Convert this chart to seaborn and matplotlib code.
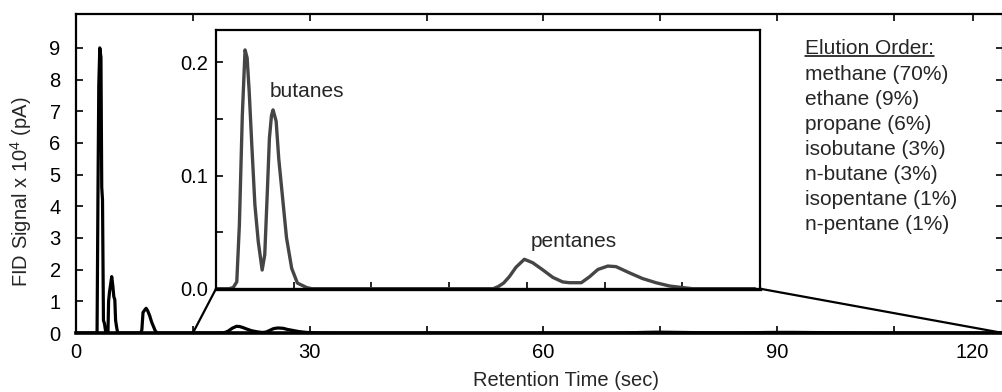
import numpy as np
import pandas as pd
import matplotlib
matplotlib.use('Agg')
import matplotlib.pyplot as plt
import seaborn as sns
from matplotlib.patches import ConnectionPatch
from matplotlib.lines import Line2D

# ---------------- data (FID signal in units of 1e4 pA) ----------------
methane_t = [0.0, 2.7, 2.82, 2.92, 3.05, 3.2, 3.3, 3.4, 3.52, 3.65, 3.8, 3.9]
methane_s = [0.0, 0.0, 4.5, 7.8, 9.0, 8.7, 4.6, 4.2, 0.4, 0.3, 0.05, 0.0]

ethane_t = [4.1, 4.18, 4.3, 4.45, 4.58, 4.72, 4.85, 4.98, 5.08, 5.2, 5.35]
ethane_s = [0.0, 1.0, 1.3, 1.55, 1.78, 1.5, 1.15, 1.05, 0.4, 0.2, 0.0]

propane_t = [8.3, 8.45, 8.6, 8.8, 9.0, 9.2, 9.45, 9.7, 9.95, 10.2, 10.5]
propane_s = [0.0, 0.1, 0.65, 0.72, 0.78, 0.7, 0.55, 0.35, 0.2, 0.05, 0.0]

butanes_t = [17.5, 18.3, 19.0, 19.5, 19.8, 20.07, 20.26, 20.6, 21.0, 21.4, 21.9,
             22.5, 23.15, 23.9, 24.4, 24.9, 25.3, 25.7, 26.0, 26.6, 27.1, 27.85,
             28.6, 29.6, 30.7, 32.5, 33.5]
butanes_s = [0.0, 0.001, 0.006, 0.056, 0.107, 0.153, 0.174, 0.211, 0.204, 0.174,
             0.127, 0.074, 0.0415, 0.0165, 0.030, 0.086, 0.133, 0.153, 0.158,
             0.148, 0.115, 0.080, 0.045, 0.018, 0.005, 0.001, 0.0]

pentanes_t = [68.5, 69.5, 70.5, 71.6, 72.9, 74.5, 76.1, 78.1, 80.0, 81.9, 83.2,
              85.5, 87.1, 88.7, 90.6, 92.2, 94.8, 97.3, 99.9, 102.5, 105.0, 107.0,
              119.0]
pentanes_s = [0.0, 0.002, 0.005, 0.0106, 0.019, 0.026, 0.023, 0.0165, 0.010,
              0.006, 0.0053, 0.0053, 0.0106, 0.017, 0.020, 0.0195, 0.014, 0.009,
              0.0053, 0.0024, 0.001, 0.0, 0.0]

elution_title = "Elution Order:"
elution_order = ["methane (70%)", "ethane (9%)", "propane (6%)", "isobutane (3%)",
                 "n-butane (3%)", "isopentane (1%)", "n-pentane (1%)"]

main_xticks = [0, 30, 60, 90]
main_xtick_labels = ["0", "30", "60", "90"]
main_yticks = list(range(0, 10))
inset_yticks = [0.0, 0.1, 0.2]
inset_ytick_labels = ["0.0", "0.1", "0.2"]

time_s = methane_t + ethane_t + propane_t + butanes_t + pentanes_t
signal = methane_s + ethane_s + propane_s + butanes_s + pentanes_s
df = pd.DataFrame({"t": time_s, "s": signal})

# ---------------- style ----------------
sns.set_style("ticks")
plt.rcParams['font.family'] = ['Liberation Sans', 'DejaVu Sans']
plt.rcParams['mathtext.default'] = 'regular'

fig = plt.figure(figsize=(10.03, 3.92), dpi=100)

# ---------------- main axes ----------------
ax = fig.add_axes([0.0758, 0.1505, 0.9242, 0.8138])
sns.lineplot(data=df, x="t", y="s", ax=ax, color="black", lw=2.3,
             sort=False, estimator=None)
ax.set_xlim(0, 119)
ax.set_ylim(0, 10.07)

ax.set_xticks(main_xticks + [115.1], main_xtick_labels + ["120"])
ax.set_xticks([15, 45, 75, 105], minor=True)
last = ax.xaxis.get_major_ticks()[-1]
last.tick1line.set_visible(False)
last.tick2line.set_visible(False)
ax.set_yticks(main_yticks)
ax.tick_params(axis='both', which='both', direction='in', length=5, width=1.2,
               top=True, right=True, labelsize=14.5, colors='black')
ax.tick_params(axis='x', which='both', pad=7)
ax.tick_params(axis='y', which='both', pad=11)
for sp in ax.spines.values():
    sp.set_linewidth(1.6)
    sp.set_color('black')
ax.spines['bottom'].set_linewidth(2.6)

ax.set_xlabel("Retention Time (sec)", fontsize=14.5)
ax.xaxis.set_label_coords(0.529, -0.119)
ax.set_ylabel("FID Signal x 10$^4$ (pA)", fontsize=14.5)
ax.yaxis.set_label_coords(-0.045, 0.443)

# elution order text block
x0 = (805 - 76) / 927
y_title = (333 - 49) / 319
step = 25.14 / 319
t_title = ax.text(x0, y_title, elution_title, transform=ax.transAxes,
                  fontsize=15, ha='left', va='center')
for i, name in enumerate(elution_order):
    ax.text(x0, y_title - step * (i + 1), name, transform=ax.transAxes,
            fontsize=15, ha='left', va='center')

# ---------------- inset ----------------
ax2 = fig.add_axes([0.2154, 0.2635, 0.5424, 0.66])
sns.lineplot(data=df, x="t", y="s", ax=ax2, color="#454545", lw=2.4,
             sort=False, estimator=None)
ax2.set_xlim(15, 120)
ax2.set_ylim(0, 0.2286)
ax2.set_xlabel("")
ax2.set_ylabel("")
ax2.set_xticks([30, 45, 60, 75, 90, 105], [""] * 6)
ax2.set_yticks(inset_yticks, inset_ytick_labels)
ax2.set_yticks([0.05, 0.15], minor=True)
ax2.tick_params(axis='both', which='both', direction='in', length=5, width=1.2,
                top=False, right=False, labelsize=14.5, colors='black')
ax2.tick_params(axis='y', which='both', pad=5.5)
for sp in ax2.spines.values():
    sp.set_linewidth(1.6)
    sp.set_color('black')
ax2.spines['bottom'].set_linewidth(2.4)

ax2.text(25.4, 0.174, "butanes", fontsize=15, ha='left', va='center')
ax2.text(75.8, 0.0415, "pentanes", fontsize=15, ha='left', va='center')

# ---------------- connectors ----------------
cp1 = ConnectionPatch(xyA=(15, 0), coordsA=ax.transData, xyB=(0, 0),
                      coordsB=ax2.transAxes, color='black', lw=1.6)
fig.add_artist(cp1)
cp2 = ConnectionPatch(xyA=(1, 0), coordsA=ax.transAxes, xyB=(1, 0),
                      coordsB=ax2.transAxes, color='black', lw=1.6)
fig.add_artist(cp2)

# underline for the title of the elution list
fig.canvas.draw()
bb = t_title.get_window_extent()
W, H = fig.bbox.width, fig.bbox.height
yline = (bb.y0 + 2.5) / H
fig.add_artist(Line2D([bb.x0 / W, bb.x1 / W], [yline, yline],
                      transform=fig.transFigure, color='black', lw=1.1))

fig.savefig("out.png", dpi=100)
